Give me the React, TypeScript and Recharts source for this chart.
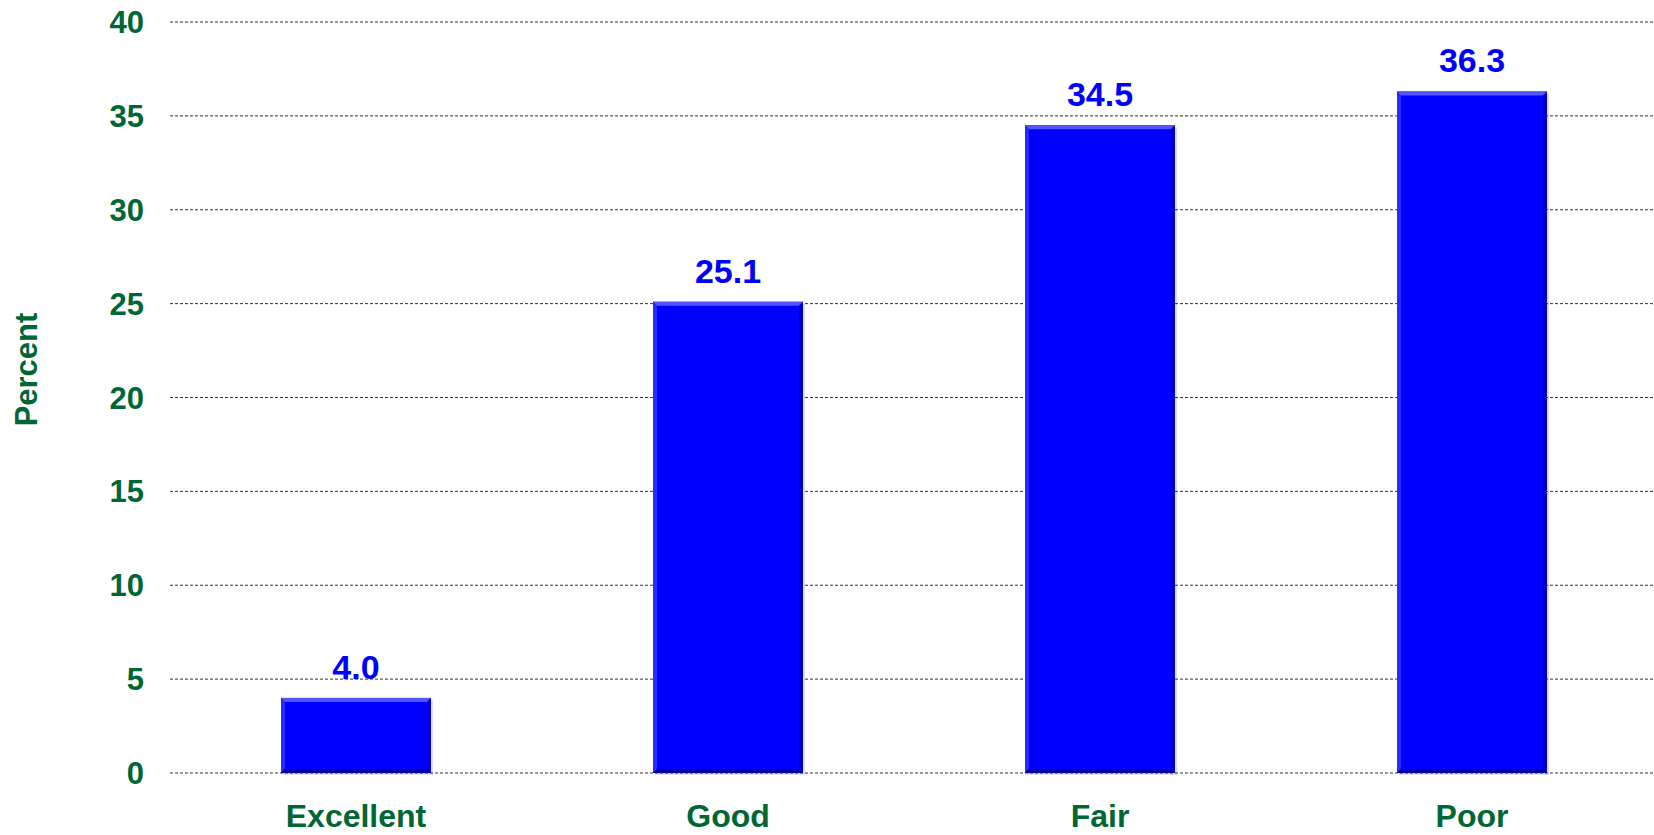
import React from 'react';
import { BarChart, Bar, XAxis, YAxis, CartesianGrid, LabelList, Label } from 'recharts';

const categories = ['Excellent', 'Good', 'Fair', 'Poor'];
const percents = [4.0, 25.1, 34.5, 36.3];
const yTicks = [0, 5, 10, 15, 20, 25, 30, 35, 40];

const GREEN = '#006633';
const BLUE = '#0000FF';
const FONT = '"Liberation Sans", Arial, sans-serif';

const data = categories.map((name, i) => ({ name, value: percents[i] }));

// bevelled bar, like the old Office "shape effect"
const BevelBar = (props: any) => {
  const { x, y, width, height } = props;
  if (!height || height <= 0) return null;
  const b = Math.min(4, height / 2);
  return (
    <g>
      <rect x={x + 2} y={y + 2} width={width} height={height} fill="rgba(0,0,0,0.12)" />
      <rect x={x} y={y} width={width} height={height} fill={BLUE} />
      <polygon
        points={`${x},${y} ${x + width},${y} ${x + width - b},${y + b} ${x + b},${y + b}`}
        fill="#5555ff"
      />
      <polygon
        points={`${x},${y} ${x + b},${y + b} ${x + b},${y + height - b} ${x},${y + height}`}
        fill="#2a2aff"
      />
      <polygon
        points={`${x + width},${y} ${x + width},${y + height} ${x + width - b},${y + height - b} ${x + width - b},${y + b}`}
        fill="#0000cc"
      />
      <polygon
        points={`${x},${y + height} ${x + width},${y + height} ${x + width - b},${y + height - b} ${x + b},${y + height - b}`}
        fill="#0000a0"
      />
    </g>
  );
};

const YLabel = (props: any) => {
  const { viewBox } = props;
  const cx = viewBox.x + 26;
  const cy = viewBox.y + viewBox.height / 2 - 28;
  return (
    <text
      x={cx}
      y={cy}
      transform={`rotate(-90, ${cx}, ${cy})`}
      textAnchor="middle"
      dominantBaseline="central"
      fill={GREEN}
      fontSize={31}
      fontWeight="bold"
      fontFamily={FONT}
    >
      Percent
    </text>
  );
};

export default function App() {
  return (
    <div style={{ position: 'fixed', left: 0, top: 0, width: 1654, height: 835, overflow: 'hidden', background: '#fff' }}>
      <BarChart
        width={1660}
        height={835}
        data={data}
        margin={{ top: 22, right: 2, bottom: 0, left: 0 }}
      >
        <CartesianGrid vertical={false} stroke="#333" strokeDasharray="3 2" />
        <XAxis
          dataKey="name"
          height={62}
          axisLine={false}
          tickLine={false}
          tickSize={0}
          tickMargin={31}
          tick={{ fill: GREEN, fontSize: 32, fontWeight: 'bold', fontFamily: FONT }}
        />
        <YAxis
          width={170}
          domain={[0, 40]}
          ticks={yTicks}
          axisLine={false}
          tickLine={false}
          tickSize={0}
          tickMargin={26}
          tick={{ fill: GREEN, fontSize: 31, fontWeight: 'bold', fontFamily: FONT }}
        >
          <Label content={YLabel} />
        </YAxis>
        <Bar dataKey="value" barSize={150} shape={BevelBar} isAnimationActive={false}>
          <LabelList
            dataKey="value"
            position="top"
            offset={19}
            formatter={(v: any) => Number(v).toFixed(1)}
            fill={BLUE}
            fontSize={34}
            fontWeight="bold"
            fontFamily={FONT}
          />
        </Bar>
      </BarChart>
    </div>
  );
}
